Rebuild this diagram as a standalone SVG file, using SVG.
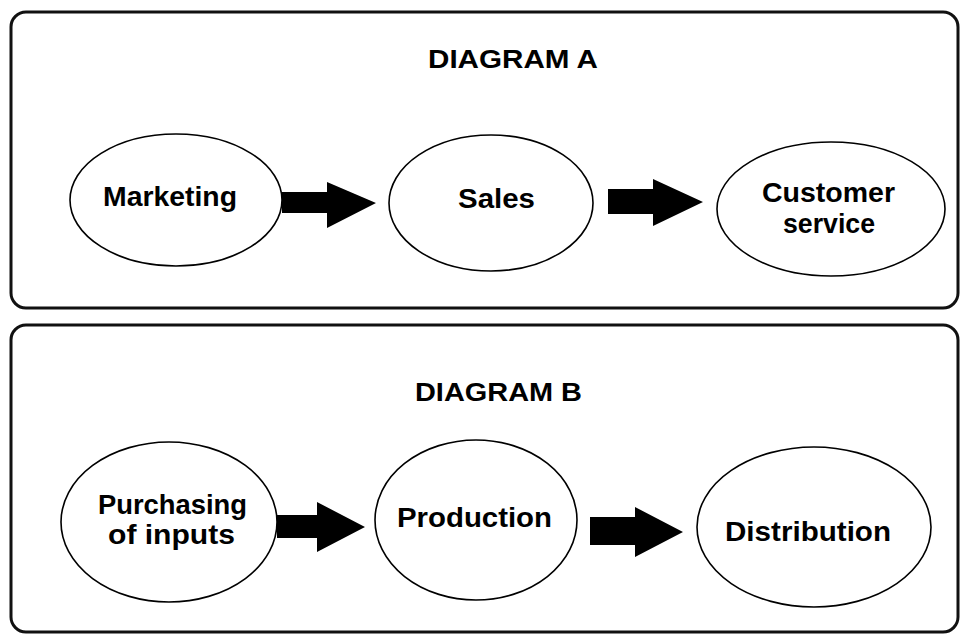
<svg xmlns="http://www.w3.org/2000/svg" width="961" height="635" viewBox="0 0 961 635">
  <style>
    .panel { fill: #ffffff; stroke: #111111; stroke-width: 3; }
    .node { fill: #ffffff; stroke: #000000; stroke-width: 1.6; }
    .label { font-family: "Liberation Sans", Arial, sans-serif; font-weight: bold; fill: #000000; }
    .title { font-size: 25px; }
    .txt { font-size: 27px; }
    .arrow { fill: #000000; stroke: none; }
  </style>
  <rect width="961" height="635" fill="#ffffff"/>

  <!-- Panel A -->
  <g id="panel-a">
    <rect class="panel" x="11" y="12" width="947" height="296" rx="15" ry="15"/>
    <text class="label title" x="428" y="68" textLength="170" lengthAdjust="spacingAndGlyphs">DIAGRAM A</text>
  </g>

  <!-- Panel B -->
  <g id="panel-b">
    <rect class="panel" x="11" y="325" width="947" height="307" rx="15" ry="15"/>
    <text class="label title" x="415" y="401" textLength="167" lengthAdjust="spacingAndGlyphs">DIAGRAM B</text>
  </g>

  <!-- Connectors: block arrows -->
  <g id="connectors">
    <polygon class="arrow" points="282,192 327,192 327,182 376,203 327,228 327,213 282,213"/>
    <polygon class="arrow" points="608,189 653,189 653,179 703,202 653,226 653,214 608,214"/>
    <polygon class="arrow" points="277,515 317,515 317,502 365,527 317,552 317,538 277,538"/>
    <polygon class="arrow" points="590,517 635,517 635,507 683,532 635,557 635,545 590,545"/>
  </g>

  <!-- Diagram A nodes -->
  <g id="marketing">
    <ellipse class="node" cx="176" cy="200" rx="106" ry="66"/>
    <text class="label txt" x="103" y="206" textLength="134" lengthAdjust="spacingAndGlyphs">Marketing</text>
  </g>
  <g id="sales">
    <ellipse class="node" cx="491" cy="203" rx="102" ry="68"/>
    <text class="label txt" x="458" y="208" textLength="77" lengthAdjust="spacingAndGlyphs">Sales</text>
  </g>
  <g id="customer-service">
    <ellipse class="node" cx="831" cy="209" rx="114" ry="67"/>
    <text class="label txt" x="762" y="202" textLength="133" lengthAdjust="spacingAndGlyphs">Customer</text>
    <text class="label txt" x="783" y="233" textLength="92" lengthAdjust="spacingAndGlyphs">service</text>
  </g>

  <!-- Diagram B nodes -->
  <g id="purchasing">
    <ellipse class="node" cx="169" cy="522" rx="108" ry="80"/>
    <text class="label txt" x="98" y="514" textLength="149" lengthAdjust="spacingAndGlyphs">Purchasing</text>
    <text class="label txt" x="108" y="544" textLength="127" lengthAdjust="spacingAndGlyphs">of inputs</text>
  </g>
  <g id="production">
    <ellipse class="node" cx="476" cy="520" rx="101" ry="80"/>
    <text class="label txt" x="397" y="527" textLength="155" lengthAdjust="spacingAndGlyphs">Production</text>
  </g>
  <g id="distribution">
    <ellipse class="node" cx="814" cy="527" rx="117" ry="80"/>
    <text class="label txt" x="725" y="541" textLength="166" lengthAdjust="spacingAndGlyphs">Distribution</text>
  </g>
</svg>
